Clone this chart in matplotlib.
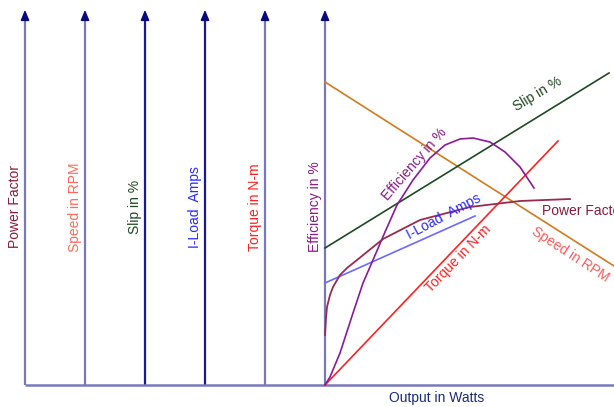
import matplotlib
matplotlib.use("Agg")
import matplotlib.pyplot as plt

plt.rcParams['font.family'] = ['Liberation Sans', 'DejaVu Sans']

# ---- data (x = output, y = value; arbitrary units) ----
axis_x = [-300, -240, -180, -120, -60, 0]
axis_labels = ["Power Factor", "Speed in RPM", "Slip in %", "I-Load  Amps",
               "Torque in N-m", "Efficiency in %"]
axis_label_colors = ["#8b1a3a", "#ff6a5a", "#1e4620", "#2a2aff", "#ff2020", "#8a1a8a"]
axis_line_colors = ["#7878bc", "#7878bc", "#1a1a8c", "#1a1a8c", "#7878bc", "#7878bc"]

speed_x = [0, 289]
speed_y = [303, 119]
slip_x = [0, 284]
slip_y = [137, 312]
torque_x = [0, 233]
torque_y = [0, 244]
iload_x = [0, 150]
iload_y = [102, 169]
eff_x = [0, 5, 15, 28, 38, 48, 60, 72, 88, 105, 120, 135, 148, 165, 180, 195, 209]
eff_y = [0, 8, 32, 72, 102, 125, 153, 180, 205, 227, 240, 246, 247, 243, 233, 218, 197]
pf_x = [0, 1, 2, 5, 8, 15, 22, 32, 58, 95, 145, 195, 245]
pf_y = [50, 67, 78, 90, 98, 110, 117, 125, 146, 165, 178, 184, 186]

fig = plt.figure(figsize=(6.14, 4.07), dpi=100)
ax = fig.add_axes([0, 0, 1, 1])
ax.set_xlim(-325, 289)
ax.set_ylim(-22, 385)
ax.axis('off')

FS = 10

# vertical axes with arrows
for xv, lab, lc, ac in zip(axis_x, axis_labels, axis_line_colors, axis_label_colors):
    ax.plot([xv, xv], [0, 370], color=lc, lw=1.6, solid_capstyle='butt', zorder=2)
    ax.annotate('', xy=(xv, 378), xytext=(xv, 367),
                arrowprops=dict(arrowstyle='-|>,head_length=0.6,head_width=0.25',
                                color='#0a0a80', lw=1.2), zorder=3)
    ax.text(xv - 10, 178, lab, rotation=90, color=ac, fontsize=FS,
            ha='center', va='center')

# horizontal axis
ax.plot([-300, 289], [0, 0], color='#7878bc', lw=1.8, solid_capstyle='butt', zorder=2)
ax.text(112, -13, "Output in Watts", color='#1a2a80', fontsize=FS,
        ha='center', va='center')

# curves
ax.plot(speed_x, speed_y, color='#d47a1e', lw=1.2)
ax.plot(slip_x, slip_y, color='#1e4a22', lw=1.2)
ax.plot(torque_x, torque_y, color='#ff2222', lw=1.2)
ax.plot(iload_x, iload_y, color='#6a6aff', lw=1.2)
ax.plot(eff_x, eff_y, color='#8a1a9a', lw=1.2)
ax.plot(pf_x, pf_y, color='#9a2a50', lw=1.3)

# curve labels
ax.text(213, 291, "Slip in %", rotation=31, color='#1e4620', fontsize=FS,
        ha='center', va='center')
ax.text(89, 221, "Efficiency in %", rotation=49, color='#8a1a8a', fontsize=FS,
        ha='center', va='center')
ax.text(119, 168, "I-Load  Amps", rotation=28, color='#2a2aff', fontsize=FS,
        ha='center', va='center')
ax.text(133, 126, "Torque in N-m", rotation=46, color='#ff2020', fontsize=FS,
        ha='center', va='center')
ax.text(245, 130, "Speed in RPM", rotation=-33, color='#ff5a5a', fontsize=FS,
        ha='center', va='center')
ax.text(217, 174, "Power Factor", rotation=0, color='#8b1a3a', fontsize=FS,
        ha='left', va='center')

fig.savefig("out.png", dpi=100)
